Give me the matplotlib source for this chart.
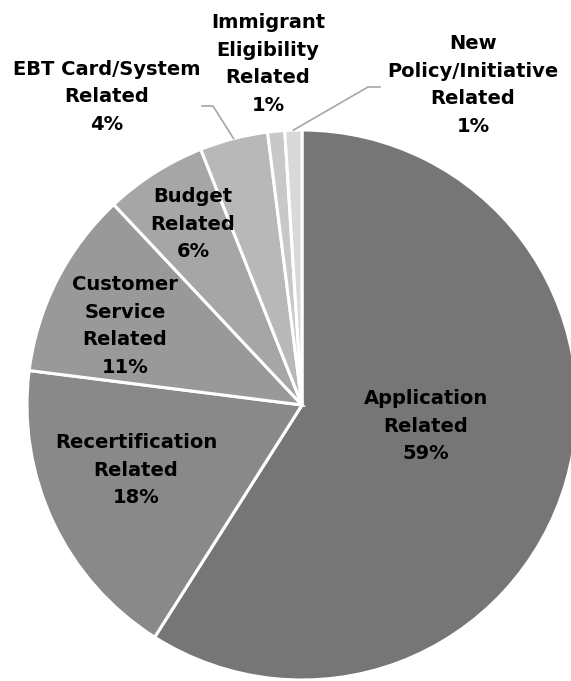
import numpy as np
import matplotlib.pyplot as plt

# Complaint categories and shares (%)
categories = ['Application\nRelated', 'Recertification\nRelated', 'Customer\nService\nRelated',
              'Budget\nRelated', 'EBT Card/System\nRelated', 'Immigrant\nEligibility\nRelated',
              'New\nPolicy/Initiative\nRelated']
shares = [59, 18, 11, 6, 4, 1, 1]
colors = ['#767676', '#898989', '#999999', '#a6a6a6', '#b8b8b8', '#c8c8c8', '#d9d9d9']

W, H = 571, 681
fig = plt.figure(figsize=(W / 100, H / 100), dpi=100)
cx, cy, r = 302, 405, 275
ax = fig.add_axes([(cx - r) / W, (H - cy - r) / H, 2 * r / W, 2 * r / H])

wedges, _ = ax.pie(shares, colors=colors, startangle=90, counterclock=False, radius=1,
                   wedgeprops=dict(edgecolor='white', linewidth=2.2))
ax.set_xlim(-1, 1)
ax.set_ylim(-1, 1)
ax.set_aspect('equal')
ax.axis('off')


def px(x, y):
    return (x - cx) / r, (cy - y) / r


# label centres in pixel space
label_pos = [(426, 426), (136, 470), (125, 326), (193, 224), (107, 97), (268, 64), (473, 85)]
for i, (name, val) in enumerate(zip(categories, shares)):
    x, y = px(*label_pos[i])
    ax.text(x, y, f'{name}\n{val}%', ha='center', va='center', fontsize=14,
            fontweight='bold', color='black', linespacing=1.58, clip_on=False)

# leader lines for the two small outside-labelled wedges
elbows = {4: [(202, 106), (213, 106)], 6: [(380, 87), (368, 87)]}
for i, pts in elbows.items():
    w = wedges[i]
    mid = np.deg2rad((w.theta1 + w.theta2) / 2)
    ex, ey = np.cos(mid), np.sin(mid)
    xs = [px(*p)[0] for p in pts] + [ex]
    ys = [px(*p)[1] for p in pts] + [ey]
    ax.plot(xs, ys, color='#a6a6a6', lw=1.2, clip_on=False)

fig.savefig('out.png', dpi=100)
